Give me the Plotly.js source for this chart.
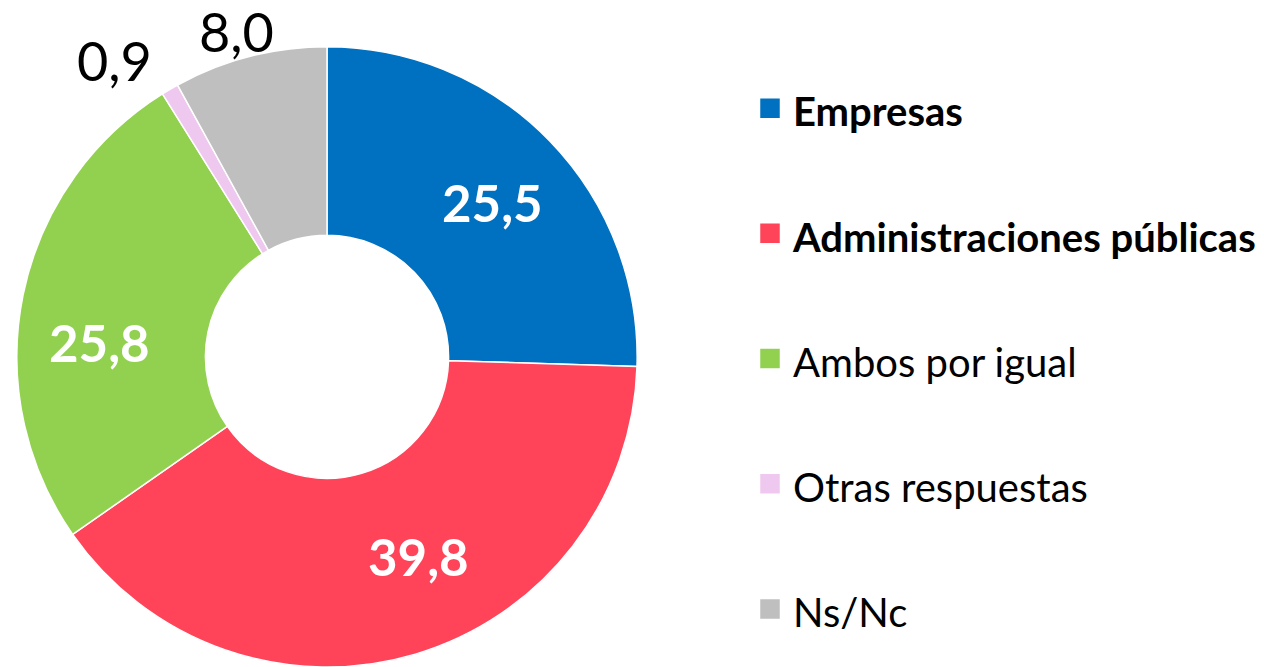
<!DOCTYPE html>
<html>
<head>
<meta charset="utf-8">
<script src="https://cdn.plot.ly/plotly-3.0.1.min.js"></script>
<style>html,body{margin:0;padding:0;background:#fff;}#chart{width:1264px;height:667px;}</style>
</head>
<body>
<div id="chart"></div>
<script>
const categories = ["Empresas", "Administraciones públicas", "Ambos por igual", "Otras respuestas", "Ns/Nc"];
const values = [25.5, 39.8, 25.8, 0.9, 8.0];
const boldLegend = [true, true, false, false, false];
const colors = ["#0070C0", "#FF4359", "#92D050", "#EEC8EE", "#BFBFBF"];

// label placement (pixels in the 1264x667 picture), kept apart from the data
const labelPx = [[492, 202], [418, 556], [99, 343], [114, 60], [236, 31]];
const labelInside = [true, true, true, false, false];

const W = 1264, H = 667;
const FONT = "Lato, 'Open Sans', sans-serif";
const fmt = v => v.toFixed(1).replace(".", ",");

const legendLabels = categories.map((c, i) => {
  const t = boldLegend[i] ? "<b>" + c + "</b>" : c;
  return " <br><span style=\"font-size:40px\">" + t + "</span>";
});

const trace = {
  type: "pie",
  labels: legendLabels,
  values: values,
  sort: false,
  direction: "clockwise",
  rotation: 0,
  hole: 0.392,
  marker: { colors: colors, line: { color: "#FFFFFF", width: 1.5 } },
  textinfo: "none",
  domain: { x: [15 / W, 639 / W], y: [0, 0.93] },
  hoverinfo: "none",
  automargin: false
};

const annotations = values.map((v, i) => ({
  xref: "paper", yref: "paper",
  x: labelPx[i][0] / W,
  y: 1 - labelPx[i][1] / H,
  xanchor: "center", yanchor: "middle",
  text: labelInside[i] ? "<b>" + fmt(v) + "</b>" : fmt(v),
  showarrow: false,
  font: {
    family: FONT,
    size: labelInside[i] ? 51 : 54,
    color: labelInside[i] ? "#FFFFFF" : "#000000"
  }
}));

const layout = {
  width: W,
  height: H,
  margin: { l: 0, r: 0, t: 0, b: 0, pad: 0 },
  paper_bgcolor: "#FFFFFF",
  plot_bgcolor: "#FFFFFF",
  separators: ",.",
  showlegend: true,
  annotations: annotations,
  legend: {
    x: 753 / W,
    xanchor: "left",
    y: 1 - 10 / H,
    yanchor: "top",
    valign: "bottom",
    font: { family: FONT, size: 47, color: "#000000" },
    bgcolor: "rgba(0,0,0,0)",
    traceorder: "normal"
  }
};

Plotly.newPlot("chart", [trace], layout, { displayModeBar: false, staticPlot: true }).then(() => {
  document.querySelectorAll("#chart .legend path.legendpie").forEach(p => {
    p.setAttribute("d", "M7.5,10.5H-13.5V-10.5H7.5Z");
  });
});
</script>
</body>
</html>
